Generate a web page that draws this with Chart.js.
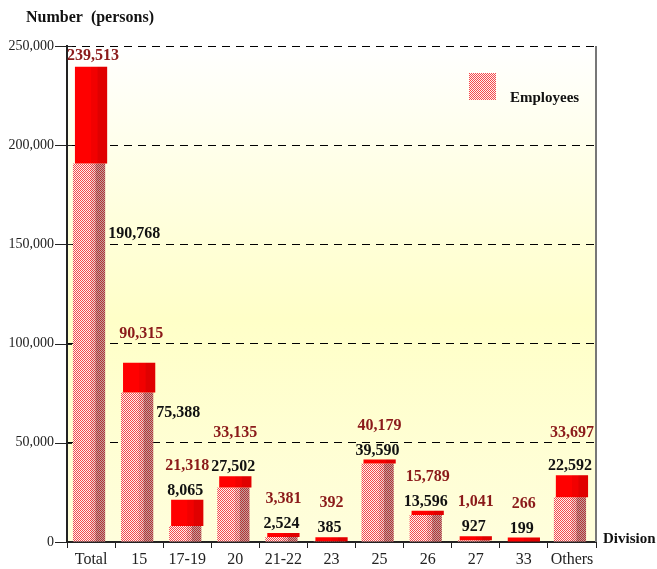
<!DOCTYPE html>
<html>
<head>
<meta charset="utf-8">
<script src="https://cdn.jsdelivr.net/npm/chart.js@4.4.1/dist/chart.umd.min.js"></script>
<style>body{margin:0;background:#fff}</style>
</head>
<body>
<canvas id="chart" width="657" height="569"></canvas>
<script>
const divisions = ['Total', '15', '17-19', '20', '21-22', '23', '25', '26', '27', '33', 'Others'];
const employees = [190768, 75388, 8065, 27502, 2524, 385, 39590, 13596, 927, 199, 22592];
const personsEngaged = [239513, 90315, 21318, 33135, 3381, 392, 40179, 15789, 1041, 266, 33697];
const yTicks = [0, 50000, 100000, 150000, 200000, 250000];

const serif = '"Liberation Serif", "Times New Roman", serif';
const fmt = v => v.toLocaleString('en-US');

// little red / white checker, like the dithered fill of the original
function checker(a, b) {
  const c = document.createElement('canvas');
  c.width = 2; c.height = 2;
  const g = c.getContext('2d');
  g.fillStyle = b; g.fillRect(0, 0, 2, 2);
  g.fillStyle = a; g.fillRect(0, 0, 1, 1); g.fillRect(1, 1, 1, 1);
  return g.createPattern(c, 'repeat');
}
const hatch = checker('#f44a4a', '#fff0f0');

const decor = {
  id: 'decor',
  beforeDraw(chart) {
    const {ctx, chartArea: a} = chart;
    const g = ctx.createLinearGradient(0, a.top, 0, a.bottom);
    g.addColorStop(0, '#ffffff');
    g.addColorStop(0.55, '#ffffc8');
    g.addColorStop(1, '#fffedc');
    ctx.save();
    ctx.fillStyle = g;
    ctx.fillRect(a.left, a.top, a.right - a.left, a.bottom - a.top);
    ctx.restore();
  },
  beforeDatasetDraw(chart, args) {
    if (args.index === 0) { chart.ctx.save(); chart.ctx.translate(-2, 0); }
  },
  afterDatasetDraw(chart, args) {
    const ctx = chart.ctx;
    args.meta.data.forEach(el => {
      const p = el.getProps(['x', 'y', 'base', 'width'], true);
      const l = p.x - p.width / 2, top = Math.min(p.y, p.base), h = Math.abs(p.base - p.y);
      if (args.index === 0) {
        ctx.fillStyle = 'rgba(60,0,0,0.1)';
        ctx.fillRect(l + p.width * 0.55, top, p.width * 0.15, h);
        ctx.fillStyle = 'rgba(60,0,0,0.33)';
        ctx.fillRect(l + p.width * 0.7, top, p.width * 0.3, h);
      } else {
        ctx.fillStyle = 'rgba(0,0,0,0.05)';
        ctx.fillRect(l + p.width * 0.5, top, p.width * 0.2, h);
        ctx.fillStyle = 'rgba(0,0,0,0.12)';
        ctx.fillRect(l + p.width * 0.7, top, p.width * 0.3, h);
      }
    });
    if (args.index === 0) ctx.restore();
  },
  afterDatasetsDraw(chart) {
    const ctx = chart.ctx;
    const red = chart.getDatasetMeta(1);
    const y = chart.scales.y;
    const gridPx = yTicks.map(v => y.getPixelForValue(v));
    ctx.save();
    ctx.font = 'bold 16px ' + serif;
    ctx.textBaseline = 'middle';
    divisions.forEach((d, i) => {
      const r = red.data[i];
      const top = Math.min(r.y, r.base);
      ctx.textAlign = 'center';
      if (i < 2) {
        ctx.fillStyle = '#8b1a1a';
        ctx.fillText(fmt(personsEngaged[i]), r.x + 2, top - (i === 0 ? 11 : 29));
        ctx.textAlign = 'left';
        ctx.fillStyle = '#111';
        ctx.fillText(fmt(employees[i]), r.x + r.width / 2 + 1, y.getPixelForValue(employees[i]) + (i === 0 ? 70 : 20));
      } else {
        ctx.fillStyle = '#111';
        ctx.fillText(fmt(employees[i]), r.x - 2, top - 9);
        // keep the red label clear of a dashed grid line
        let ry = top - 34;
        gridPx.forEach(g => { if (Math.abs(ry - g) < 9) ry = g - 10; });
        ctx.fillStyle = '#8b1a1a';
        ctx.fillText(fmt(personsEngaged[i]), r.x, ry);
      }
    });
    ctx.restore();
  },
  afterDraw(chart) {
    const {ctx, chartArea: a} = chart;
    const y = chart.scales.y;
    ctx.save();
    // right frame
    ctx.strokeStyle = '#777';
    ctx.lineWidth = 2;
    ctx.beginPath();
    ctx.moveTo(a.right, a.top); ctx.lineTo(a.right, a.bottom);
    ctx.stroke();
    // y ticks crossing the axis
    ctx.strokeStyle = '#222';
    ctx.lineWidth = 1;
    yTicks.forEach(v => {
      const py = Math.round(y.getPixelForValue(v)) + 0.5;
      ctx.beginPath(); ctx.moveTo(a.left - 12, py); ctx.lineTo(a.left + 5, py); ctx.stroke();
    });
    // titles
    ctx.fillStyle = '#111';
    ctx.textBaseline = 'middle';
    ctx.textAlign = 'left';
    ctx.font = 'bold 16px ' + serif;
    ctx.fillText('Number  (persons)', 26, 18);
    ctx.font = 'bold 15px ' + serif;
    ctx.fillText('Division', 603, 539);
    // legend
    ctx.fillStyle = hatch;
    ctx.fillRect(469, 73, 27, 27);
    ctx.fillStyle = '#111';
    ctx.font = 'bold 15px ' + serif;
    ctx.fillText('Employees', 510, 98);
    ctx.restore();
  }
};

new Chart(document.getElementById('chart'), {
  type: 'bar',
  data: {
    labels: divisions,
    datasets: [
      {
        label: 'Employees',
        data: employees,
        backgroundColor: hatch,
        order: 2
      },
      {
        label: 'Persons engaged',
        data: employees.map((v, i) => [v, personsEngaged[i]]),
        backgroundColor: '#ff0000',
        minBarLength: 4,
        order: 1
      }
    ]
  },
  options: {
    responsive: false,
    animation: false,
    devicePixelRatio: 1,
    layout: {padding: {top: 46, right: 61, bottom: 0, left: 0}},
    datasets: {bar: {grouped: false, barPercentage: 0.67, categoryPercentage: 1, borderWidth: 0}},
    plugins: {legend: {display: false}, tooltip: {enabled: false}},
    scales: {
      x: {
        afterFit: s => { s.height = 27; },
        grid: {drawOnChartArea: false, offset: true, tickLength: 6, color: '#222'},
        border: {color: '#222', width: 2},
        ticks: {font: {family: serif, size: 16}, color: '#222', padding: 2, maxRotation: 0, autoSkip: false}
      },
      y: {
        min: 0,
        max: 250000,
        afterFit: s => { s.width = 67; },
        afterBuildTicks: s => { s.ticks = yTicks.map(v => ({value: v})); },
        grid: {color: '#000', lineWidth: 1, drawTicks: false},
        border: {color: '#222', width: 2, dash: [8, 6]},
        ticks: {font: {family: serif, size: 14}, color: '#222', padding: 13, callback: v => fmt(v)}
      }
    }
  },
  plugins: [decor]
});
</script>
</body>
</html>
